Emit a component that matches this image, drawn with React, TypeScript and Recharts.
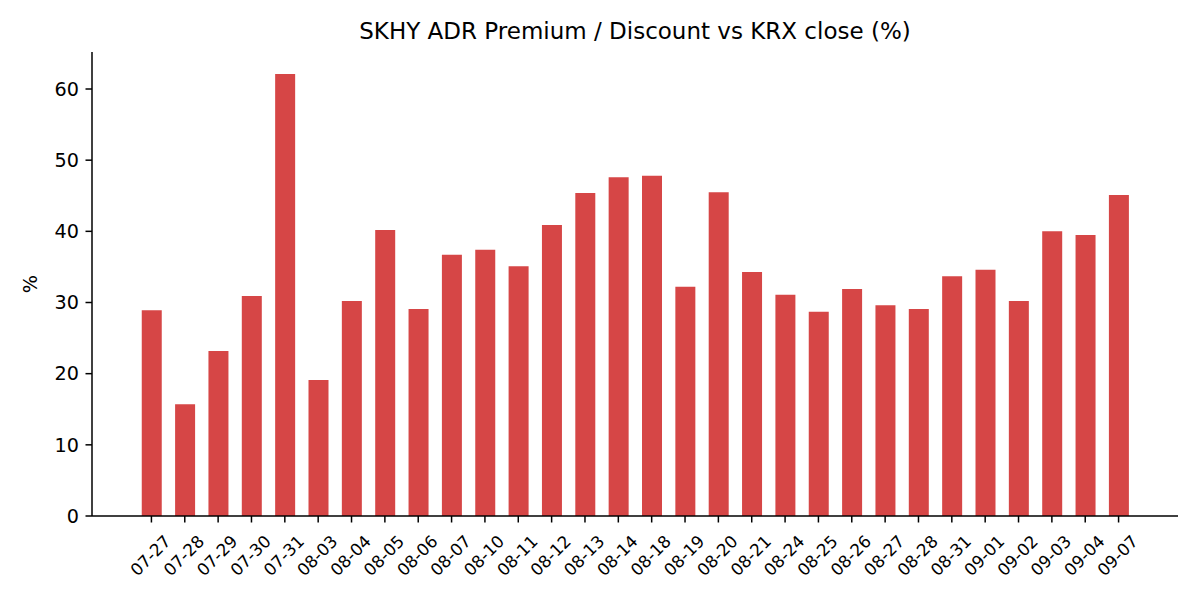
import React from 'react';
import { BarChart, Bar, XAxis, YAxis } from 'recharts';

const dates = [
  '07-27', '07-28', '07-29', '07-30', '07-31', '08-03', '08-04', '08-05', '08-06', '08-07',
  '08-10', '08-11', '08-12', '08-13', '08-14', '08-18', '08-19', '08-20', '08-21', '08-24',
  '08-25', '08-26', '08-27', '08-28', '08-31', '09-01', '09-02', '09-03', '09-04', '09-07',
];
const premium = [
  28.9, 15.7, 23.2, 30.9, 62.1, 19.1, 30.2, 40.2, 29.1, 36.7,
  37.4, 35.1, 40.9, 45.4, 47.6, 47.8, 32.2, 45.5, 34.3, 31.1,
  28.7, 31.9, 29.6, 29.1, 33.7, 34.6, 30.2, 40.0, 39.5, 45.1,
];
const yTicks = [0, 10, 20, 30, 40, 50, 60];

const data = dates.map((d, i) => ({ date: d, value: premium[i] }));

const FONT = '"DejaVu Sans", sans-serif';

const XTick = (props: any) => {
  const { x, y, payload } = props;
  const cx = x - 1;
  const cy = y + 31;
  return (
    <text
      x={cx}
      y={cy}
      transform={`rotate(-45, ${cx}, ${cy})`}
      textAnchor="middle"
      dominantBaseline="central"
      fontSize={16.8}
      fontFamily={FONT}
      fill="#000"
    >
      {payload.value}
    </text>
  );
};

export default function App() {
  return (
    <div style={{ position: 'absolute', left: 0, top: 0, width: 1200, height: 600, background: '#fff' }}>
      <BarChart
        width={1200}
        height={600}
        data={data}
        margin={{ top: 52, right: 22, bottom: 24, left: 0 }}
      >
        <text
          x={635}
          y={39}
          textAnchor="middle"
          fontSize={23}
          fontFamily={FONT}
          fill="#000"
        >
          SKHY ADR Premium / Discount vs KRX close (%)
        </text>
        <XAxis
          dataKey="date"
          interval={0}
          height={60}
          padding={{ left: 42.75, right: 42.75 }}
          axisLine={{ stroke: '#000', strokeWidth: 1.5 }}
          tickLine={{ stroke: '#000', strokeWidth: 1.5 }}
          tickSize={6.5}
          tick={<XTick />}
        />
        <YAxis
          width={92}
          domain={[0, 65.2]}
          ticks={yTicks}
          allowDataOverflow
          axisLine={{ stroke: '#000', strokeWidth: 1.5 }}
          tickLine={{ stroke: '#000', strokeWidth: 1.5 }}
          tickSize={6.5}
          tickMargin={6.5}
          tick={{ fill: '#000', fontSize: 19.2, fontFamily: FONT }}
          label={{
            content: () => (
              <text
                x={30.5}
                y={284}
                transform="rotate(-90, 30.5, 284)"
                textAnchor="middle"
                dominantBaseline="central"
                fontSize={19.2}
                fontFamily={FONT}
                fill="#000"
              >
                %
              </text>
            ),
          }}
        />
        <Bar dataKey="value" fill="#d64646" barSize={20} isAnimationActive={false} />
      </BarChart>
    </div>
  );
}
